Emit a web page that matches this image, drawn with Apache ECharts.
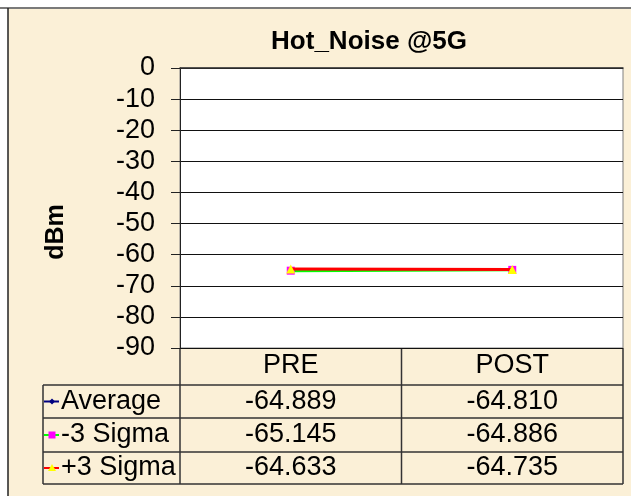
<!DOCTYPE html>
<html>
<head>
<meta charset="utf-8">
<script src="https://cdn.jsdelivr.net/npm/echarts@6/dist/echarts.min.js"></script>
<style>
html,body{margin:0;padding:0;background:#ffffff;}
#c{width:631px;height:496px;}
</style>
</head>
<body>
<div id="c"></div>
<script>
var categories = ['PRE', 'POST'];
var average = [-64.889, -64.810];
var minus3Sigma = [-65.145, -64.886];
var plus3Sigma = [-64.633, -64.735];
var rowNames = ['Average', '-3 Sigma', '+3 Sigma'];
var yMin = -90, yMax = 0, yStep = 10;

var FONT = '"Liberation Sans", Arial, sans-serif';
var chart = echarts.init(document.getElementById('c'), null, {renderer: 'canvas'});

var G = {left: 180, right: 8, top: 68, bottom: 148};
var axisY = 348;
var rowLines = [385, 418, 452, 484];
var rowCenters = [401.5, 435, 468];

function valueAxis(data, margin) {
  return {
    type: 'category', gridIndex: 0, position: 'bottom', data: categories,
    boundaryGap: true,
    axisLine: {show: false}, axisTick: {show: false}, splitLine: {show: false},
    axisLabel: {
      margin: margin, fontSize: 27, color: '#000', fontFamily: FONT, verticalAlign: 'middle',
      interval: 0,
      formatter: function (v, i) { return data[i].toFixed(3); }
    }
  };
}

var plotW = 631 - G.left - G.right;
var colXs = [G.left, G.left + plotW / 2, G.left + plotW];

var graphics = [
  {type: 'rect', shape: {x: 8, y: 8, width: 640, height: 500}, style: {fill: '#fbf0d7'}, z: -10, silent: true},
  {type: 'line', shape: {x1: 0, y1: 8, x2: 631, y2: 8}, style: {stroke: '#7a7a7a', lineWidth: 2}, z: -9},
  {type: 'line', shape: {x1: 8, y1: 8, x2: 8, y2: 496}, style: {stroke: '#222', lineWidth: 1.5}, z: -9},
  {type: 'text', style: {text: 'Hot_Noise @5G', x: 369, y: 42, textAlign: 'center', textVerticalAlign: 'middle',
     font: 'bold 26px ' + FONT, fill: '#000'}},
  {type: 'text', rotation: Math.PI / 2, x: 56, y: 232,
     style: {text: 'dBm', x: 0, y: 0, textAlign: 'center', textVerticalAlign: 'middle', font: 'bold 25px ' + FONT, fill: '#000'}},
  {type: 'line', shape: {x1: 43, y1: rowLines[0], x2: 43, y2: rowLines[3]}, style: {stroke: '#333', lineWidth: 1.5}}
];
colXs.forEach(function (x) {
  graphics.push({type: 'line', shape: {x1: x, y1: axisY, x2: x, y2: rowLines[3]}, style: {stroke: '#333', lineWidth: 1.5}});
});
rowLines.forEach(function (y) {
  graphics.push({type: 'line', shape: {x1: 43, y1: y, x2: colXs[2], y2: y}, style: {stroke: '#333', lineWidth: 1.5}});
});
rowNames.forEach(function (n, i) {
  graphics.push({type: 'text', style: {text: n, x: 61, y: rowCenters[i], textAlign: 'left', textVerticalAlign: 'middle',
    font: '27px ' + FONT, fill: '#000'}});
});
// legend keys
var ky = rowCenters;
graphics.push({type: 'line', shape: {x1: 44, y1: ky[0], x2: 59, y2: ky[0]}, style: {stroke: '#000080', lineWidth: 2}});
graphics.push({type: 'polygon', shape: {points: [[52, ky[0] - 3], [55, ky[0]], [52, ky[0] + 3], [49, ky[0]]]}, style: {fill: '#000080'}});
graphics.push({type: 'line', shape: {x1: 44, y1: ky[1], x2: 59, y2: ky[1]}, style: {stroke: '#00ff00', lineWidth: 2}});
graphics.push({type: 'rect', shape: {x: 48.5, y: ky[1] - 3.5, width: 7, height: 7}, style: {fill: '#ff00ff'}});
graphics.push({type: 'line', shape: {x1: 44, y1: ky[2], x2: 59, y2: ky[2]}, style: {stroke: '#ff0000', lineWidth: 2}});
graphics.push({type: 'polygon', shape: {points: [[52, ky[2] - 4], [56, ky[2] + 3], [48, ky[2] + 3]]}, style: {fill: '#ffff00'}});

var option = {
  animation: false,
  backgroundColor: 'transparent',
  textStyle: {fontFamily: FONT},
  grid: {left: G.left, right: G.right, top: G.top, bottom: G.bottom, show: true,
         backgroundColor: '#ffffff', borderColor: '#808080', borderWidth: 1},
  xAxis: [
    {
      type: 'category', gridIndex: 0, position: 'bottom', data: categories, boundaryGap: true,
      axisLine: {show: true, lineStyle: {color: '#333', width: 1.5}},
      axisTick: {show: false},
      axisLabel: {margin: 18, fontSize: 27, color: '#000', fontFamily: FONT, verticalAlign: 'middle', interval: 0},
      splitLine: {show: false}
    },
    valueAxis(average, rowCenters[0] - axisY),
    valueAxis(minus3Sigma, rowCenters[1] - axisY),
    valueAxis(plus3Sigma, rowCenters[2] - axisY)
  ],
  yAxis: {
    type: 'value', min: yMin, max: yMax, interval: yStep,
    axisLine: {show: true, lineStyle: {color: '#222', width: 1}},
    axisTick: {show: true, length: 9, lineStyle: {color: '#222'}},
    axisLabel: {margin: 25, fontSize: 27, color: '#000', fontFamily: FONT},
    splitLine: {show: true, lineStyle: {color: '#111', width: 1}}
  },
  series: [
    {name: 'Average', type: 'line', data: average, xAxisIndex: 0,
     symbol: 'diamond', symbolSize: 6, lineStyle: {color: '#000080', width: 2},
     itemStyle: {color: '#000080'}, z: 2},
    {name: '-3 Sigma', type: 'line', data: minus3Sigma, xAxisIndex: 0,
     symbol: 'rect', symbolSize: 8, lineStyle: {color: '#00ff00', width: 3},
     itemStyle: {color: '#ff00ff'}, z: 3},
    {name: '+3 Sigma', type: 'line', data: plus3Sigma, xAxisIndex: 0,
     symbol: 'triangle', symbolSize: 9, lineStyle: {color: '#ff0000', width: 3},
     itemStyle: {color: '#ffff00'}, z: 4}
  ],
  graphic: graphics
};
chart.setOption(option);
</script>
</body>
</html>
